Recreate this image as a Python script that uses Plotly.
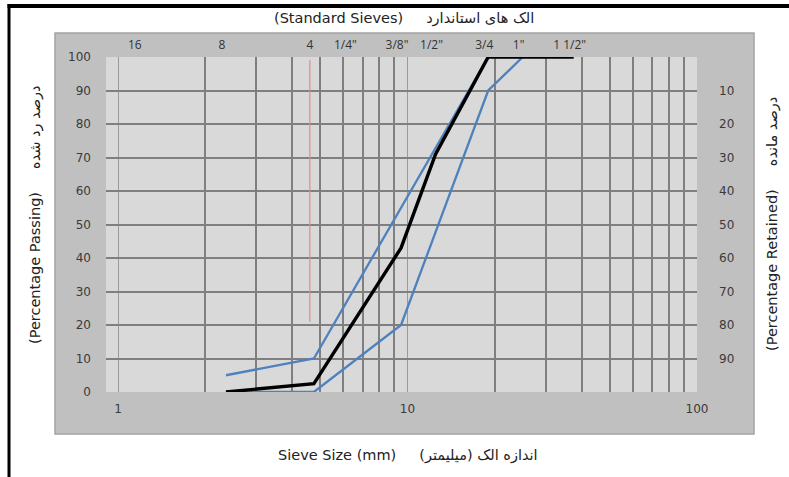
import plotly.graph_objects as go

# ---------------- data ----------------
# sieve sizes (mm) used by the gradation curves
mix_size = [2.36, 4.75, 9.5, 12.5, 19, 37.5]
mix_pass = [0, 2.5, 43, 71, 100, 100]

upper_size = [2.36, 4.75, 19, 25]
upper_pass = [5, 10, 100, 100]

lower_size = [2.36, 4.75, 9.5, 19, 25]
lower_pass = [0, 0, 20, 90, 100]

marker_size = [4.6, 4.6]
marker_pass = [21, 99]

# standard sieves (top axis)
sieve_mm = [1.18, 2.36, 4.75, 6.3, 9.5, 12.5, 19, 25, 37.5]
sieve_lbl = ["16", "8", "4", "1/4\"", "3/8\"", "1/2\"", "3/4", "1\"", "1 1/2\""]

# bottom axis
major_x = [1, 10, 100]
major_lbl = ["1", "10", "100"]
minor_x = [2, 3, 4, 5, 6, 7, 8, 9, 20, 30, 40, 50, 60, 70, 80, 90]

pass_ticks = [0, 10, 20, 30, 40, 50, 60, 70, 80, 90, 100]
ret_ticks = [10, 20, 30, 40, 50, 60, 70, 80, 90]

# ---------------- layout geometry (pixels) ----------------
W, H = 789, 477
L, R, T, B = 106, 697, 57, 392
pw, ph = R - L, B - T


def px(x):
    return (x - L) / pw


def py(y):
    return (B - y) / ph


BLUE = "#4f81bd"
GRID = "#7f7f7f"

fig = go.Figure()
fig.add_trace(go.Scatter(x=marker_size, y=marker_pass, mode="lines",
                         line=dict(color="#dc8c8c", width=1.2), hoverinfo="skip",
                         showlegend=False))
fig.add_trace(go.Scatter(x=upper_size, y=upper_pass, mode="lines",
                         line=dict(color=BLUE, width=2.3), showlegend=False))
fig.add_trace(go.Scatter(x=lower_size, y=lower_pass, mode="lines",
                         line=dict(color=BLUE, width=2.3), showlegend=False))
fig.add_trace(go.Scatter(x=mix_size, y=mix_pass, mode="lines",
                         line=dict(color="black", width=3.4), showlegend=False))
# invisible traces to activate the secondary axes
fig.add_trace(go.Scatter(x=[mix_size[0]], y=[mix_pass[0]], xaxis="x2", mode="markers",
                         marker=dict(opacity=0), hoverinfo="skip", showlegend=False))
fig.add_trace(go.Scatter(x=[mix_size[0]], y=[100 - mix_pass[0]], yaxis="y2", mode="markers",
                         marker=dict(opacity=0), hoverinfo="skip", showlegend=False))

xrange_log = [-(118 - L) / 289.5, 2]
tickfont = dict(family="DejaVu Sans", size=12, color="#3a3a3a")

fig.update_layout(
    width=W, height=H,
    margin=dict(l=L, r=W - R, t=T, b=H - B, pad=0),
    paper_bgcolor="white",
    plot_bgcolor="rgba(0,0,0,0)",
    showlegend=False,
    xaxis=dict(type="log", range=xrange_log, tickvals=major_x, ticktext=major_lbl,
               showgrid=True, gridcolor="#9a9a9a", gridwidth=1, zeroline=False,
               showline=False, ticks="", tickfont=tickfont, ticklabelstandoff=8,
               minor=dict(tickvals=minor_x, showgrid=True, gridcolor=GRID, gridwidth=1.8,
                          ticks="")),
    xaxis2=dict(type="log", range=xrange_log, overlaying="x", side="top", anchor="y",
                tickvals=sieve_mm, ticktext=sieve_lbl, showgrid=False, zeroline=False,
                showline=False, ticks="", ticklabelshift=-4, ticklabelstandoff=5,
                tickfont=dict(family="Open Sans", size=12, color="#333333")),
    yaxis=dict(range=[0, 100], tickvals=pass_ticks, showgrid=True, gridcolor=GRID,
               gridwidth=1.8, zeroline=False, showline=False, ticks="",
               tickfont=tickfont, ticklabelstandoff=14),
    yaxis2=dict(range=[100, 0], overlaying="y", side="right", anchor="x",
                tickvals=ret_ticks, showgrid=False, zeroline=False, showline=False,
                ticks="", tickfont=tickfont, ticklabelstandoff=21),
)

# chart-area box and plot-area fill
fig.add_shape(type="rect", xref="paper", yref="paper", layer="below",
              x0=px(55), x1=px(754), y0=py(434), y1=py(33),
              fillcolor="#c0c0c0", line=dict(color="#a3a3a3", width=1.5))
fig.add_shape(type="rect", xref="paper", yref="paper", layer="below",
              x0=0, x1=1, y0=0, y1=1, fillcolor="#d9d9d9", line=dict(width=0))
# page frame lines
fig.add_shape(type="rect", xref="paper", yref="paper",
              x0=px(7.5), x1=px(10.5), y0=py(477), y1=py(4),
              fillcolor="black", line=dict(width=0))
fig.add_shape(type="rect", xref="paper", yref="paper",
              x0=px(7.5), x1=px(789), y0=py(8), y1=py(4),
              fillcolor="black", line=dict(width=0))

sp = "\u00a0" * 5
tfont = dict(family="DejaVu Sans", size=14.5, color="#222222")
common = dict(xref="paper", yref="paper", showarrow=False, xanchor="center",
              yanchor="middle", font=tfont)
fig.add_annotation(x=px(404), y=py(19),
                   text="(Standard Sieves)" + sp + "الک های استاندارد", **common)
fig.add_annotation(x=px(408), y=py(455),
                   text="Sieve Size (mm)" + sp + "اندازه الک (میلیمتر)", **common)
fig.add_annotation(x=px(35), y=py(215), textangle=-90,
                   text="(Percentage Passing)" + sp + "درصد رد شده", **common)
fig.add_annotation(x=px(772), y=py(224), textangle=-90,
                   text="(Percentage Retained)" + sp + "درصد مانده", **common)

post = "document.body.style.margin='0';document.body.style.overflow='hidden';"
fig.write_html("out.html", config={"displayModeBar": False}, post_script=post)
